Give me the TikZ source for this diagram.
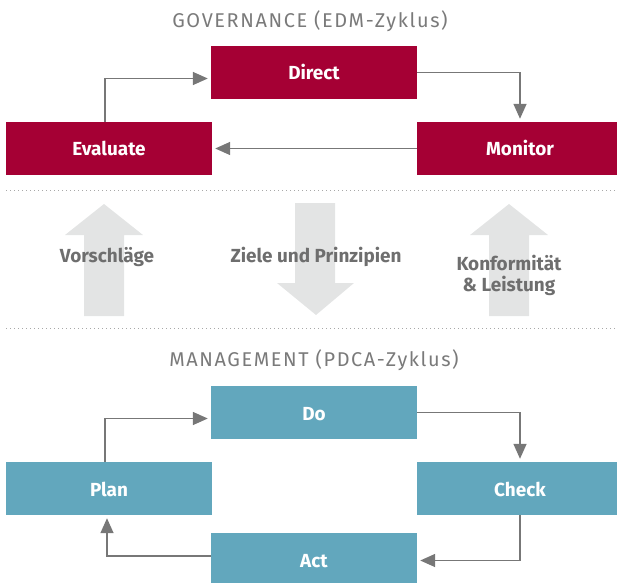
\documentclass[tikz,border=0pt]{standalone}
\usepackage{fontspec}
\setmainfont{Fira Sans}
\usetikzlibrary{arrows.meta}
\definecolor{govred}{HTML}{A50034}
\definecolor{mgmtblue}{HTML}{62A7BD}
\definecolor{linegray}{HTML}{777777}
\definecolor{labelgray}{HTML}{6E6E6E}
\definecolor{titlegray}{HTML}{7A7A7A}
\definecolor{shadefill}{HTML}{E3E4E4}
\definecolor{dotgray}{HTML}{A8A8A8}
\tikzstyle{cyclebox} = [text centered, minimum width=206bp, minimum height=53bp, inner sep=0pt, text height=15bp, text depth=0pt, text=white, font=\fontsize{19}{22}\selectfont\bfseries]
\tikzstyle{govbox} = [cyclebox, fill=govred]
\tikzstyle{mgmtbox} = [cyclebox, fill=mgmtblue]
\tikzstyle{cyclearrow} = [-{Triangle[length=15bp,width=13bp]}, linegray, line width=1.5bp, shorten >=3bp]
\tikzstyle{heading} = [anchor=base, text=titlegray, font=\fontsize{20}{22}\selectfont\addfontfeature{LetterSpace=8}]
\tikzstyle{flowlabel} = [align=center, text=labelgray, font=\fontsize{19}{21}\selectfont\bfseries]
\tikzstyle{bigarrow} = [fill=shadefill]
\tikzstyle{separator} = [dotgray, line width=1bp, dash pattern=on 1bp off 3bp]

\begin{document}
\begin{tikzpicture}[x=1bp, y=-1bp]
		\useasboundingbox (0,0) rectangle (617,583);
		% governance
		\node (govtitle) [heading] at (310,28) {GOVERNANCE (EDM-Zyklus)};
		\node (direct) [govbox] at (314,72.5) {Direct};
		\node (evaluate) [govbox] at (109,148.5) {Evaluate};
		\node (monitor) [govbox] at (520,148.5) {Monitor};
		\draw [cyclearrow] ([xshift=-4bp]evaluate.north) |- ([yshift=-6bp]direct.west);
		\draw [cyclearrow] (direct.east) -| (monitor.north);
		\draw [cyclearrow] (monitor.west) -- (evaluate.east);
		\draw [separator] (6,190) -- (617,190);
		% flows between the two levels
		\fill [bigarrow] (84,316) -- (84,235) -- (65,235) -- (104,204) -- (143,235) -- (124,235) -- (124,316) -- cycle;
		\fill [bigarrow] (295,203) -- (295,283) -- (277,283) -- (316,315) -- (354,283) -- (335,283) -- (335,203) -- cycle;
		\fill [bigarrow] (489,316) -- (489,235) -- (470,235) -- (509,204) -- (548,235) -- (529,235) -- (529,316) -- cycle;
		\node (proposals) [flowlabel, anchor=base] at (107,262) {Vorschläge};
		\node (goals) [flowlabel, anchor=base] at (316,262) {Ziele und Prinzipien};
		\node (compliance) [flowlabel] at (509,275) {Konformität\\\& Leistung};
		\draw [separator] (6,328) -- (617,328);
		% management
		\node (mgmttitle) [heading] at (314,366) {MANAGEMENT (PDCA-Zyklus)};
		\node (do) [mgmtbox] at (314,412.5) {Do};
		\node (plan) [mgmtbox] at (109,488.5) {Plan};
		\node (check) [mgmtbox] at (520,488.5) {Check};
		\node (act) [mgmtbox] at (314,559.5) {Act};
		\draw [cyclearrow] ([xshift=-4bp]plan.north) |- ([yshift=-6bp]do.west);
		\draw [cyclearrow] (do.east) -| (check.north);
		\draw [cyclearrow] (check.south) |- ([yshift=-1bp]act.east);
		\draw [cyclearrow] ([yshift=3.5bp]act.west) -| ([xshift=-2bp]plan.south);
	\end{tikzpicture}
\end{document}
